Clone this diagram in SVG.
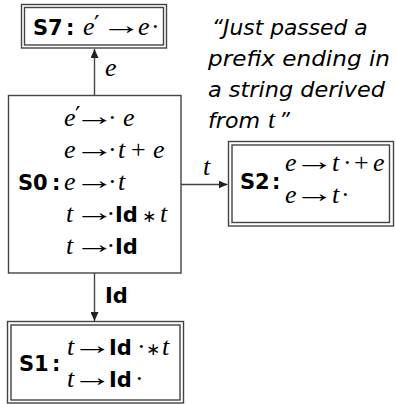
<svg xmlns="http://www.w3.org/2000/svg" width="395" height="404" viewBox="0 0 395 404">
<style>
.box{fill:#fff;stroke:#444;stroke-width:1.4}
.edge{stroke:#444;stroke-width:1.4;fill:none}
.m{font-family:"Liberation Serif","DejaVu Serif",serif;font-style:italic;font-size:26px;fill:#000}
.r{font-style:normal}
.a{font-family:"Liberation Serif","DejaVu Serif",serif;font-style:normal;font-size:26px;fill:#000}
.p{font-family:"DejaVu Serif",serif;font-style:normal;font-size:24px}
.s{font-family:"DejaVu Sans",sans-serif;font-style:normal;font-size:17px}
.b{font-family:"DejaVu Sans","Liberation Sans",sans-serif;font-weight:bold;font-style:normal;font-size:21px}
.q{font-family:"DejaVu Sans","Liberation Sans",sans-serif;font-style:oblique;font-size:21px;fill:#000}
</style>
<defs>
<marker id="ah" markerWidth="10" markerHeight="8" refX="9" refY="4" orient="auto" markerUnits="userSpaceOnUse">
<path d="M0,0 L9,4 L0,8 Z" fill="#222"/>
</marker>
<text id="arr" class="a" transform="scale(1.55,1)">→</text>
</defs>
<rect width="395" height="404" fill="#fff"/>
<g id="connectors">
<line class="edge" x1="94.5" y1="95.5" x2="94.5" y2="49" marker-end="url(#ah)"/>
<line class="edge" x1="181" y1="184.5" x2="227.5" y2="184.5" marker-end="url(#ah)"/>
<line class="edge" x1="94.5" y1="273" x2="94.5" y2="321" marker-end="url(#ah)"/>
<text class="m" x="105" y="76">e</text>
<text class="m" x="203" y="175">t</text>
<text class="m b" x="105" y="303">Id</text>
</g>
<g id="S7">
<rect class="box" x="21.5" y="4.5" width="145" height="43.5"/>
<rect class="box" x="24.5" y="7.5" width="139" height="37.5"/>
<text class="m" y="35"><tspan class="b" x="33">S7</tspan><tspan class="b" x="66">:</tspan><tspan x="83">e</tspan><tspan class="p" x="94" y="33">′</tspan><tspan x="138" y="35">e</tspan><tspan class="r" x="151">·</tspan></text>
<use href="#arr" transform="translate(101.5,34)"/>
</g>
<g id="S0">
<rect class="box" x="8.5" y="95.5" width="172.5" height="177.5"/>
<text class="m" y="126"><tspan x="64">e</tspan><tspan class="p" x="75" y="124">′</tspan><tspan class="r" x="108" y="126">·</tspan><tspan x="123">e</tspan></text>
<text class="m" y="158"><tspan x="64">e</tspan><tspan class="r" x="108">·</tspan><tspan x="118">t</tspan><tspan class="r" x="131">+</tspan><tspan x="153">e</tspan></text>
<text class="m" y="190"><tspan class="b" x="18">S0</tspan><tspan class="b" x="52">:</tspan><tspan x="64">e</tspan><tspan class="r" x="108">·</tspan><tspan x="118">t</tspan></text>
<text class="m" y="222"><tspan x="66">t</tspan><tspan class="r" x="106.5">·</tspan><tspan class="b" x="115">Id</tspan><tspan class="s" x="142">∗</tspan><tspan x="160">t</tspan></text>
<text class="m" y="254"><tspan x="66">t</tspan><tspan class="r" x="106.5">·</tspan><tspan class="b" x="115">Id</tspan></text>
<use href="#arr" transform="translate(74.5,125)"/>
<use href="#arr" transform="translate(74.5,157)"/>
<use href="#arr" transform="translate(74.5,189)"/>
<use href="#arr" transform="translate(74.5,221)"/>
<use href="#arr" transform="translate(74.5,253)"/>
</g>
<g id="S2">
<rect class="box" x="228.5" y="141.5" width="165" height="84.5"/>
<rect class="box" x="232" y="145" width="157.5" height="77.5"/>
<text class="m" y="189"><tspan class="b" x="240">S2</tspan><tspan class="b" x="272">:</tspan></text>
<text class="m" y="171"><tspan x="285">e</tspan><tspan x="332">t</tspan><tspan class="r" x="343">·</tspan><tspan class="r" x="354">+</tspan><tspan x="373">e</tspan></text>
<text class="m" y="203"><tspan x="285">e</tspan><tspan x="332">t</tspan><tspan class="r" x="341">·</tspan></text>
<use href="#arr" transform="translate(294.5,170)"/>
<use href="#arr" transform="translate(294.5,202)"/>
</g>
<g id="S1">
<rect class="box" x="7.5" y="321.5" width="176" height="81.5"/>
<rect class="box" x="11" y="325" width="169" height="75"/>
<text class="m" y="371"><tspan class="b" x="19">S1</tspan><tspan class="b" x="52">:</tspan></text>
<text class="m" y="355"><tspan x="67">t</tspan><tspan class="b" x="109">Id</tspan><tspan class="r" x="137">·</tspan><tspan class="s" x="146">∗</tspan><tspan x="162">t</tspan></text>
<text class="m" y="387"><tspan x="67">t</tspan><tspan class="b" x="109">Id</tspan><tspan class="r" x="135">·</tspan></text>
<use href="#arr" transform="translate(72.5,354)"/>
<use href="#arr" transform="translate(72.5,386)"/>
</g>
<g id="note">
<text class="q" x="211.7" y="35" textLength="156" lengthAdjust="spacingAndGlyphs">“Just passed a</text>
<text class="q" x="208" y="66" textLength="182" lengthAdjust="spacingAndGlyphs">prefix ending in</text>
<text class="q" x="208" y="97" textLength="177" lengthAdjust="spacingAndGlyphs">a string derived</text>
<text class="q" x="208" y="128" textLength="52" lengthAdjust="spacingAndGlyphs">from</text>
<text class="m" x="268" y="128">t</text>
<text class="q" x="279" y="128">”</text>
</g>
</svg>
